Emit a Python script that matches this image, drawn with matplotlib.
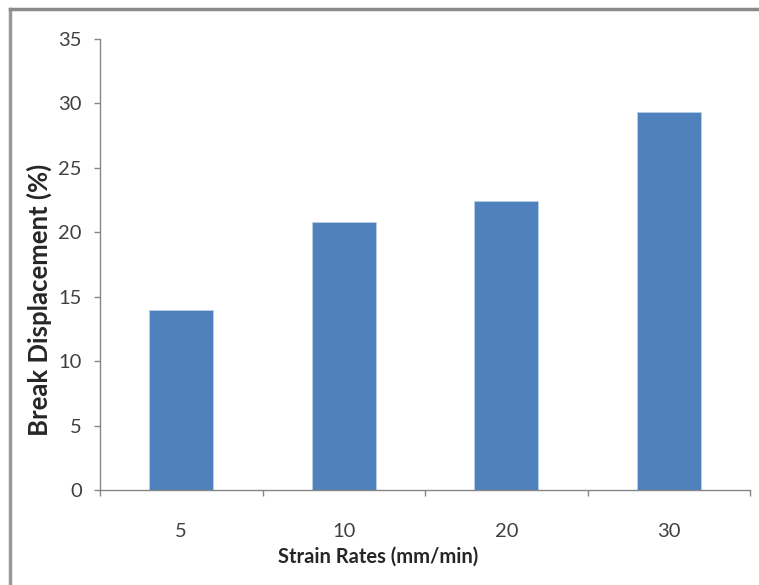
import matplotlib.pyplot as plt
from matplotlib.lines import Line2D

strain_rates = ["5", "10", "20", "30"]
break_disp = [14.0, 20.8, 22.4, 29.3]

plt.rcParams['font.family'] = ['Lato', 'DejaVu Sans']
text_col = '#404040'
axis_col = '#868686'

fig = plt.figure(figsize=(7.59, 5.85), dpi=100)
ax = fig.add_axes([100 / 759, 1 - 490 / 585, 650 / 759, 451 / 585])

x = range(len(strain_rates))
ax.bar(x, break_disp, width=0.395, color='#4F81BD', edgecolor='#B9CDE5', linewidth=0.6)

ax.set_xlim(-0.5, 3.5)
ax.set_ylim(0, 35)
ax.set_yticks(range(0, 36, 5))
ax.set_xticks(list(x))
ax.set_xticklabels(strain_rates)
ax.set_xticks([-0.5, 0.5, 1.5, 2.5, 3.5], minor=True)
ax.tick_params(axis='x', which='major', length=0, pad=24, labelsize=14.5, colors=text_col)
ax.tick_params(axis='x', which='minor', length=4, width=1, color=axis_col)
ax.tick_params(axis='y', length=4, width=1, color=axis_col, labelsize=14.5,
               labelcolor=text_col, pad=9)

for s in ['top', 'right']:
    ax.spines[s].set_visible(False)
for s in ['left', 'bottom']:
    ax.spines[s].set_color(axis_col)
    ax.spines[s].set_linewidth(1)

ax.set_xlabel('Strain Rates (mm/min)', fontsize=14.5, fontweight='bold', color='#262626')
ax.xaxis.set_label_coords(278 / 650, -57 / 451)
ax.set_ylabel('Break Displacement (%)', fontsize=18.5, fontweight='bold', color='#262626')
ax.yaxis.set_label_coords(-48 / 650, 0.422)

# chart frame (only top and left edges visible in the crop)
fig.add_artist(Line2D([10 / 759, 10 / 759], [0, 1 - 9 / 585], transform=fig.transFigure,
                      color='#9a9a9a', linewidth=2.5))
fig.add_artist(Line2D([10 / 759, 1], [1 - 9 / 585, 1 - 9 / 585], transform=fig.transFigure,
                      color='#8a8a8a', linewidth=2.5))

fig.savefig('out.png', dpi=100)
